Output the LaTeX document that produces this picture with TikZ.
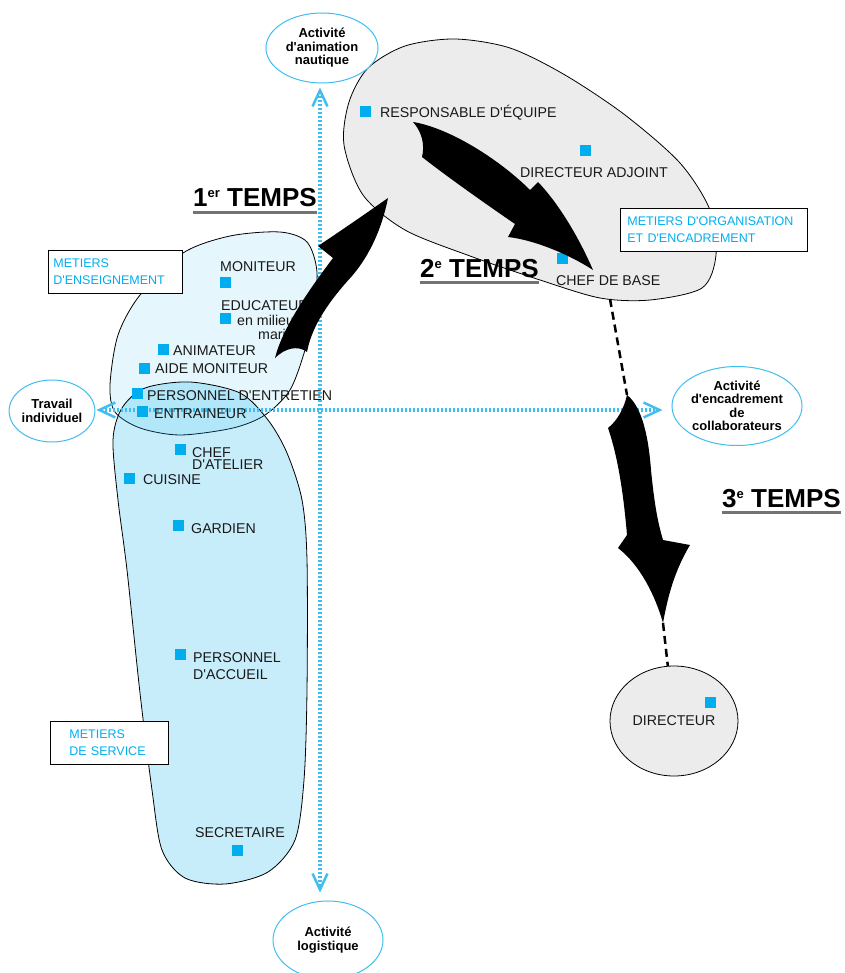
\documentclass[tikz,border=0pt]{standalone}
\usepackage{fontspec}
\setmainfont{Liberation Sans}[Ligatures=TeXOff]
\usetikzlibrary{shapes.geometric, arrows.meta, positioning}
\definecolor{metierblue}{RGB}{0,174,239}
\definecolor{axisblue}{RGB}{64,190,240}
\definecolor{orggray}{RGB}{236,236,236}

\begin{document}
\begin{tikzpicture}[x=1pt, y=-1pt,
    activite/.style={draw=axisblue, line width=1pt, ellipse, align=center, inner sep=0pt, fill=white, font=\bfseries\fontsize{13}{13.5}\selectfont},
    axe/.style={draw=axisblue, line width=4pt, dash pattern=on 2pt off 2pt, {Straight Barb[length=16pt,width=15pt,line width=2.5pt]}-{Straight Barb[length=16pt,width=15pt,line width=2.5pt]}},
    carre/.style={fill=metierblue, minimum size=11pt, inner sep=0pt},
    metier/.style={anchor=base west, inner sep=0pt, text=black!90, font=\fontsize{14.2}{15}\selectfont},
    cadre/.style={draw, line width=0.8pt, fill=white, anchor=north west, align=left, text=metierblue, font=\fontsize{12.5}{17}\selectfont, minimum height=43pt},
    temps/.style={anchor=base west, inner xsep=0pt, inner ysep=5.5pt, font=\bfseries\fontsize{26}{26}\selectfont},
    souligne/.style={draw=black!55, line width=3pt},
    zone/.style={draw, line width=0.8pt},
    fleche/.style={fill=black},
    lien/.style={draw, line width=2.5pt, dash pattern=on 8pt off 5pt}
]
\path[use as bounding box, fill=white] (0,0) rectangle (844,973);

% Zones
\draw[zone, fill=orggray] plot[smooth cycle] coordinates {(344,145) (349,102) (368,68) (405,46) (455,39) (510,48) (565,75) (625,115) (680,163) (710,210) (716,255) (702,288) (650,300) (600,298) (540,280) (470,256) (405,230) (363,195)};
\draw[zone, fill=metierblue, fill opacity=0.1] plot[smooth cycle] coordinates {(110,385) (118,335) (140,295) (183,253) (230,236) (280,232) (307,242) (317,272) (313,315) (305,350) (290,390) (265,415) (233,428) (180,435) (140,428) (115,412)};
\draw[zone, fill=metierblue, fill opacity=0.22] plot[smooth cycle] coordinates {(113,440) (118,500) (127,570) (140,693) (152,790) (162,850) (185,878) (225,884) (268,872) (295,840) (304,780) (307,690) (307,560) (302,500) (287,453) (268,420) (240,393) (190,382) (145,388) (122,408)};
\coordinate (orgbas) at (610,299);

% Axes
\node[activite, minimum width=112pt, minimum height=70pt] (nautique) at (322,48) {Activité\\d'animation\\nautique};
\node[activite, minimum width=84pt, minimum height=62pt] (travail) at (52,411) {Travail\\individuel};
\node[activite, minimum width=117pt, minimum height=79pt] (encadrement) at (737,406) {Activité\\d'encadrement\\de\\collaborateurs};
\node[activite, minimum width=110pt, minimum height=78pt] (logistique) at (328,940) {Activité\\logistique};
\coordinate (o) at (320,410);
\draw[axe, shorten <=4pt, shorten >=8pt] (o |- nautique.south) -- (o |- logistique.north);
\draw[axe, shorten <=1pt, shorten >=9pt] (travail.east |- o) -- (encadrement.west |- o);

% Cadres
\node[cadre, text width=124pt, inner xsep=5pt] (enseignement) at (48,250) {METIERS\\D'ENSEIGNEMENT};
\node[cadre, text width=173pt, inner xsep=7pt] (organisation) at (620,208) {METIERS D'ORGANISATION\\ET D'ENCADREMENT};
\node[cadre, text width=80pt, inner xsep=19pt] (service) at (50,721) {METIERS\\DE SERVICE};

% Metiers d'organisation et d'encadrement
\node[carre] (responsable) at (365.5,111.5) {};
\node[metier] (responsabletxt) at (380,118) {RESPONSABLE D'ÉQUIPE};
\node[carre] (adjoint) at (585.5,150.5) {};
\node[metier] (adjointtxt) at (520,178) {DIRECTEUR ADJOINT};
\node[carre] (chefbase) at (562.5,258.5) {};
\node[metier] (chefbasetxt) at (556,285) {CHEF DE BASE};
\node[ellipse, zone, fill=orggray, minimum width=128pt, minimum height=110pt, inner sep=0pt, font=\fontsize{14.2}{15}\selectfont, text=black!90] (directeur) at (674,721) {DIRECTEUR};
\node[carre] (directeurcarre) at (710.5,702.5) {};

% Metiers d'enseignement
\node[metier] (moniteurtxt) at (220,272) {MONITEUR};
\node[carre] (moniteur) at (225.5,282.5) {};
\node[metier] (educateurtxt) at (221,310) {EDUCATEUR};
\node[carre] (educateur) at (225.5,318) {};
\node[metier] (milieutxt) at (237,325) {en milieu};
\node[metier] (marintxt) at (258,339) {marin};
\node[carre] (animateur) at (163.5,349.5) {};
\node[metier] (animateurtxt) at (173,355) {ANIMATEUR};
\node[carre] (aide) at (144.5,368.5) {};
\node[metier] (aidetxt) at (155,373) {AIDE MONITEUR};
\node[carre] (entretien) at (137.5,393) {};
\node[metier] (entretientxt) at (147,400) {PERSONNEL D'ENTRETIEN};
\node[carre] (entraineur) at (142.5,411.5) {};
\node[metier] (entraineurtxt) at (154,418) {ENTRAINEUR};

% Metiers de service
\node[carre] (atelier) at (180.5,449.5) {};
\node[metier] (ateliertxt) at (192,457) {CHEF};
\node[metier] (ateliertxtb) at (192,469.5) {D'ATELIER};
\node[carre] (cuisine) at (129.5,478.5) {};
\node[metier] (cuisinetxt) at (143,484) {CUISINE};
\node[carre] (gardien) at (178.5,525.5) {};
\node[metier] (gardientxt) at (191,533) {GARDIEN};
\node[carre] (accueil) at (180.5,654.5) {};
\node[metier] (accueiltxt) at (193,662) {PERSONNEL};
\node[metier] (accueiltxtb) at (193,679) {D'ACCUEIL};
\node[metier] (secretairetxt) at (195,837) {SECRETAIRE};
\node[carre] (secretaire) at (237.5,850.5) {};

% Temps
\node[temps] (temps1) at (193,207) {1\raisebox{9pt}{\fontsize{13}{13}\selectfont er} TEMPS};
\draw[souligne] (temps1.south west) -- (temps1.south east);
\node[temps] (temps2) at (420,277) {2\raisebox{9pt}{\fontsize{13}{13}\selectfont e} TEMPS};
\draw[souligne] (temps2.south west) -- (temps2.south east);
\node[temps] (temps3) at (722,507) {3\raisebox{9pt}{\fontsize{13}{13}\selectfont e} TEMPS};
\draw[souligne] (temps3.south west) -- (temps3.south east);

% Fleches
\fill[fleche] (275,358) .. controls (282,330) and (305,295) .. (333,258) -- (318,246)
  .. controls (345,228) and (368,212) .. (388,198)
  .. controls (382,228) and (370,255) .. (352,276)
  .. controls (330,300) and (312,325) .. (307,352)
  .. controls (298,345) and (285,348) .. (275,358) -- cycle;
\fill[fleche] (413,122) .. controls (450,128) and (500,160) .. (530,190) -- (538,182)
  .. controls (560,205) and (580,240) .. (593,270)
  .. controls (570,255) and (535,240) .. (508,237) -- (515,224)
  .. controls (480,200) and (445,175) .. (422,157)
  .. controls (425,145) and (422,132) .. (413,122) -- cycle;
\coordinate (fleche3haut) at (627,395);
\coordinate (fleche3pointe) at (663,623);
\fill[fleche] (fleche3haut) .. controls (640,405) and (648,430) .. (651,470)
  .. controls (654,500) and (657,520) .. (663,540) -- (690,545)
  .. controls (675,570) and (668,595) .. (fleche3pointe)
  .. controls (655,595) and (640,565) .. (618,548) -- (627,535)
  .. controls (624,500) and (619,460) .. (608,428)
  .. controls (618,420) and (624,408) .. (fleche3haut) -- cycle;
\draw[lien] (orgbas) -- (fleche3haut);
\draw[lien] (fleche3pointe) -- (directeur);

\end{tikzpicture}
\end{document}
